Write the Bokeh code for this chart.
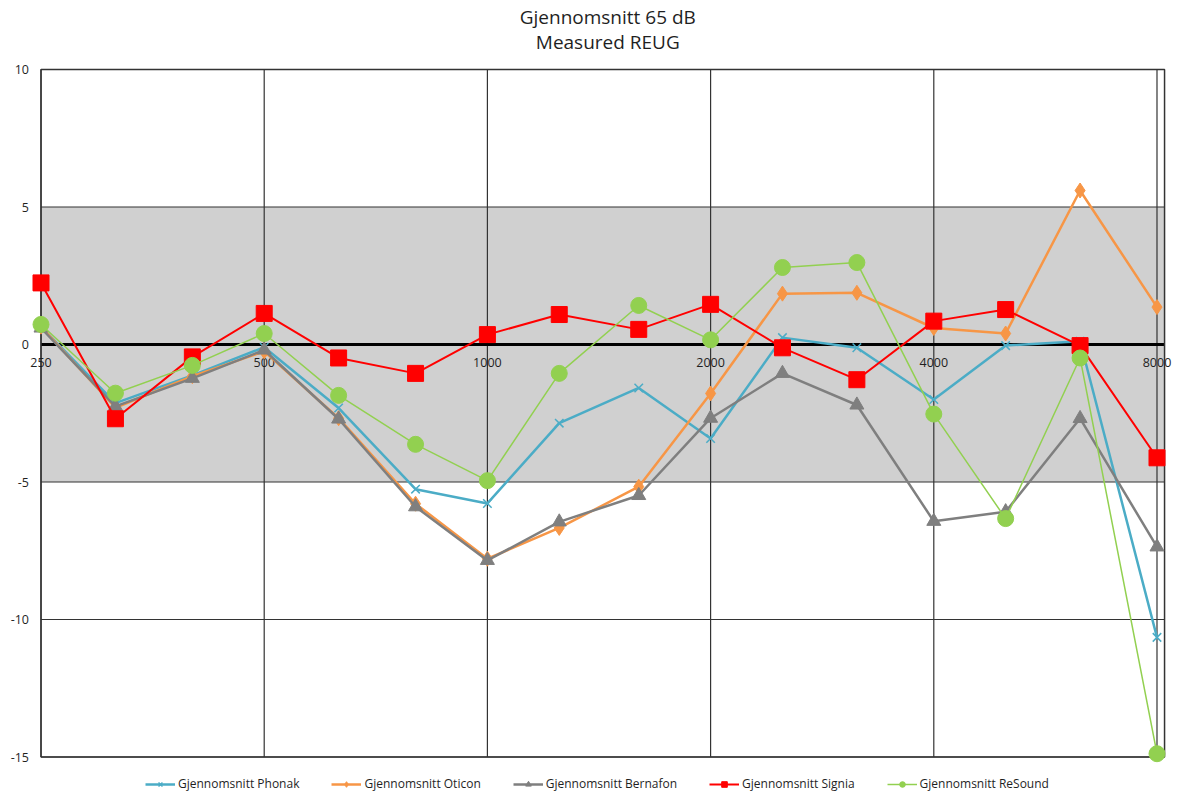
from bokeh.plotting import figure
from bokeh.models import Range1d, Legend, LegendItem, ColumnDataSource
from bokeh.core.properties import value
from bokeh.embed import file_html
from bokeh.resources import INLINE

# ---------------- data ----------------
freqs = [250, 315, 400, 500, 630, 800, 1000, 1250, 1600, 2000, 2500, 3150, 4000, 5000, 6300, 8000]
phonak   = [0.65, -2.13, -1.12, -0.10, -2.31, -5.26, -5.78, -2.86, -1.58, -3.42, 0.25, -0.12, -2.00, -0.04, 0.12, -10.65]
oticon   = [0.65, -2.30, -1.15, -0.25, -2.68, -5.79, -7.79, -6.67, -5.17, -1.78, 1.85, 1.88, 0.60, 0.40, 5.60, 1.36]
bernafon = [0.60, -2.25, -1.23, -0.20, -2.71, -5.90, -7.85, -6.45, -5.49, -2.68, -1.05, -2.20, -6.43, -6.08, -2.69, -7.36]
signia   = [2.24, -2.70, -0.45, 1.13, -0.49, -1.05, 0.36, 1.09, 0.55, 1.46, -0.12, -1.28, 0.85, 1.27, -0.04, -4.12]
resound  = [0.73, -1.77, -0.76, 0.40, -1.85, -3.63, -4.95, -1.05, 1.42, 0.17, 2.80, 2.98, -2.53, -6.33, -0.49, -14.88]

series_names = ["Gjennomsnitt Phonak", "Gjennomsnitt Oticon", "Gjennomsnitt Bernafon",
                "Gjennomsnitt Signia", "Gjennomsnitt ReSound"]
x_ticks = [250, 500, 1000, 2000, 4000, 8000]
x_tick_labels = ["250", "500", "1000", "2000", "4000", "8000"]
y_ticks = [-15, -10, -5, 0, 5, 10]
y_tick_labels = ["-15", "-10", "-5", "0", "5", "10"]
x_axis_span = [250, 8190]      # plot-area extent on the frequency axis
y_axis_span = [-15, 10]
band = [-5, 5]                 # grey target band
title_lines = ["Gjennomsnitt 65 dB", "Measured REUG"]

# ---------------- styles ----------------
FONT = "Open Sans"
TXT = "#1f1f1f"
GRID = "#333333"
styles = [
    dict(color="#4BACC6", lw=2.5, marker="x", size=12, mlw=1.5),
    dict(color="#F79646", lw=2.5, marker="diamond", size=15, mlw=1),
    dict(color="#7F7F7F", lw=2.5, marker="triangle", size=14, mlw=1),
    dict(color="#FF0000", lw=2.0, marker="square", size=16, mlw=1),
    dict(color="#92D050", lw=1.5, marker="circle", size=16, mlw=1),
]

# The frame covers the whole canvas; the plot area (250..8190, -15..10) sits inside it,
# leaving room around it for the tick labels, titles and legend.
p = figure(width=1177, height=796, x_axis_type="log",
           x_range=Range1d(220.45, 8526), y_range=Range1d(-16.436, 12.509),
           output_backend="svg", toolbar_location=None, title=None,
           x_axis_location=None, y_axis_location=None,
           min_border=0, min_border_left=0, min_border_right=0,
           min_border_top=0, min_border_bottom=0)
p.outline_line_color = None
p.background_fill_color = "white"
p.border_fill_color = "white"
p.grid.visible = False

x0, x1 = x_axis_span
y0, y1 = y_axis_span

# plot area band
p.quad(left=[x0], right=[x1], bottom=[band[0]], top=[band[1]],
       fill_color="#D0D0D0", line_color=None)

# grid lines
p.segment(x0=x_ticks, x1=x_ticks, y0=[y0] * len(x_ticks), y1=[y1] * len(x_ticks),
          line_color=GRID, line_width=1.2)
p.segment(x0=[x0] * len(y_ticks), x1=[x1] * len(y_ticks), y0=y_ticks, y1=y_ticks,
          line_color=GRID, line_width=1.2)
# zero line
p.segment(x0=[x0], x1=[x1], y0=[0], y1=[0], line_color="black", line_width=3)
# plot-area outline
p.quad(left=[x0], right=[x1], bottom=[y0], top=[y1], fill_color=None,
       line_color=GRID, line_width=1.5)

# tick labels
p.text(x=[x0] * len(y_ticks), y=y_ticks, text=y_tick_labels, x_offset=-12,
       text_align="right", text_baseline="middle", text_font=value(FONT),
       text_font_size=value("12.5px"), text_color=TXT)
p.text(x=x_ticks, y=[0] * len(x_ticks), text=x_tick_labels, y_offset=18,
       text_align="center", text_baseline="middle", text_font=value(FONT),
       text_font_size=value("12.5px"), text_color=TXT)

# series
items = []
for name, ys, st in zip(series_names, [phonak, oticon, bernafon, signia, resound], styles):
    src = ColumnDataSource(dict(x=freqs, y=ys))
    lr = p.line("x", "y", source=src, line_color=st["color"], line_width=st["lw"])
    sr = p.scatter("x", "y", source=src, marker=st["marker"], size=st["size"],
                   fill_color=st["color"], line_color=st["color"], line_width=st["mlw"])
    items.append(LegendItem(label=name, renderers=[lr, sr]))

# title (two lines) centred over the plot area
tx = (x0 * x1) ** 0.5
p.text(x=[tx, tx], y=[y1, y1], text=title_lines, y_offset=[-52, -27], x_offset=5,
       text_align="center", text_baseline="middle", text_font=value(FONT),
       text_font_size=value("19px"), text_color=TXT)

legend = Legend(items=items, orientation="horizontal", location=(145, 4),
                glyph_width=30, glyph_height=14, label_height=14, label_standoff=3,
                spacing=32, padding=0, margin=0, border_line_color=None,
                background_fill_alpha=0, label_text_font=FONT,
                label_text_font_size="12px", label_text_color=TXT)
p.add_layout(legend, "center")

open("out.html", "w").write(file_html(p, INLINE))
